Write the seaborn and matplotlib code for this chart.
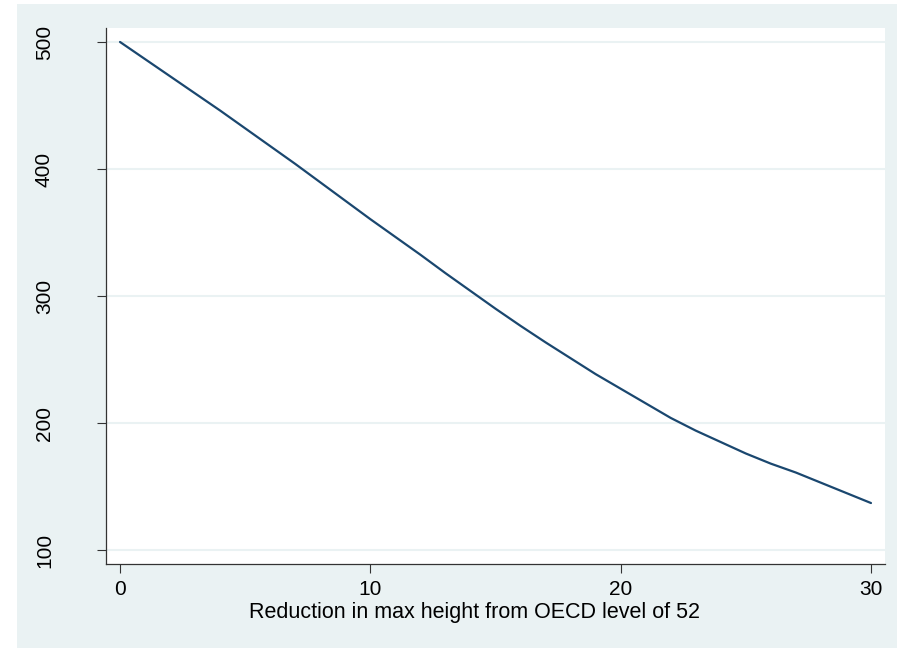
import matplotlib
matplotlib.use("Agg")
import matplotlib.pyplot as plt
import seaborn as sns
import pandas as pd
from matplotlib.patches import Rectangle

reduction = [0, 1, 2, 3, 4, 5, 6, 7, 8, 9, 10, 11, 12, 13, 14, 15,
             16, 17, 18, 19, 20, 21, 22, 23, 24, 25, 26, 27, 28, 29, 30]
value = [500, 486.5, 473, 459.5, 446, 432, 418, 404, 389.5, 375, 360.5,
         346.5, 332.5, 318, 304, 290, 276.5, 263.5, 251, 238.5, 227,
         215.5, 204, 194, 185, 176, 168, 161, 153, 145, 137]
xticks = [0, 10, 20, 30]
yticks = [100, 200, 300, 400, 500]
xlabel = "Reduction in max height from OECD level of 52"

df = pd.DataFrame({"x": reduction, "y": value})

sns.set_style("white")
plt.rcParams["font.family"] = ["Liberation Sans", "DejaVu Sans"]

W, H = 913, 650
fig = plt.figure(figsize=(W / 100, H / 100), dpi=100, facecolor="white")
bg = Rectangle((17 / W, 2 / H), (897 - 17) / W, (646 - 2) / H,
               transform=fig.transFigure, facecolor="#EAF2F3",
               edgecolor="none", zorder=-10)
fig.add_artist(bg)
ax = fig.add_axes([106 / W, (H - 564) / H, (885 - 106) / W, (564 - 28) / H])
ax.set_zorder(1)
ax.set_facecolor("white")

sns.lineplot(data=df, x="x", y="y", ax=ax, color="#1a476f", linewidth=1.6)

ax.set_xlim(-0.56, 30.56)
ax.set_ylim(89, 511)
ax.set_xticks(xticks)
ax.set_yticks(yticks)
ax.set_xticklabels([str(t) for t in xticks], fontsize=15, color="black")
ax.set_yticklabels([str(t) for t in yticks], fontsize=15, rotation=90,
                   va="center", color="black")
ax.tick_params(axis="both", direction="out", length=6.5, width=0.8,
               color="#333333", bottom=True, left=True)
ax.tick_params(axis="y", pad=31)
ax.tick_params(axis="x", pad=5)
ax.yaxis.grid(True, color="#EAF2F3", linewidth=1.5)
ax.xaxis.grid(False)
ax.set_axisbelow(True)
for s in ["top", "right"]:
    ax.spines[s].set_visible(False)
for s in ["left", "bottom"]:
    ax.spines[s].set_color("#333333")
    ax.spines[s].set_linewidth(0.9)
ax.set_xlabel(xlabel, fontsize=15.5, color="black")
ax.xaxis.set_label_coords((474 - 106) / (885 - 106), -0.07)
ax.set_ylabel("")

fig.savefig("out.png", dpi=100, facecolor="white")
